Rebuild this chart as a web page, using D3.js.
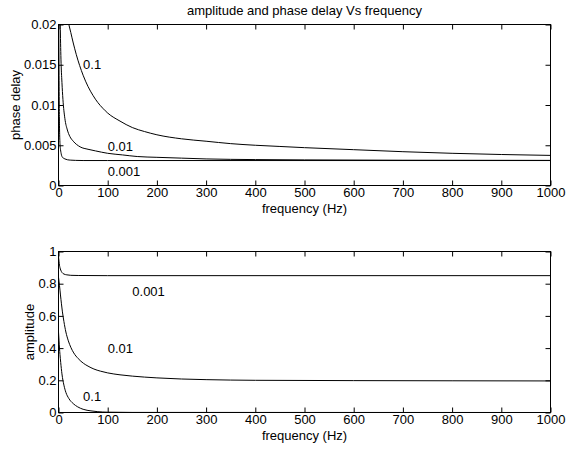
<!DOCTYPE html>
<html>
<head>
<meta charset="utf-8">
<script src="https://cdn.jsdelivr.net/npm/d3@7"></script>
<style>
  body { margin: 0; background: #fff; }
  svg { font-family: "Liberation Sans", Arial, sans-serif; }
</style>
</head>
<body>
<svg id="chart"></svg>
<script>
// values
const phaseFreq01 = [21, 25, 30, 36, 43, 50, 60, 70, 80, 90, 100, 125, 150, 175, 200, 250, 300, 350, 400, 450, 500, 600, 700, 800, 900, 1000]
const phase01 = [0.0200, 0.0190, 0.0177, 0.0163, 0.0149, 0.0137, 0.0123, 0.0112, 0.0103, 0.0096, 0.0090, 0.0080, 0.0072, 0.0067, 0.0063, 0.0058, 0.0055, 0.0052, 0.0050, 0.00485, 0.0047, 0.00445, 0.0042, 0.0040, 0.00385, 0.00374]

const phaseFreq001 = [3.5, 5, 7, 9, 13, 18, 23, 30, 44, 60, 75, 100, 130, 160, 200, 250, 300, 400, 500, 700, 1000]
const phase001 = [0.0200, 0.0157, 0.0128, 0.0107, 0.0083, 0.0069, 0.0061, 0.0055, 0.0048, 0.0045, 0.0043, 0.0040, 0.0038, 0.0036, 0.0035, 0.0034, 0.0033, 0.00322, 0.00318, 0.00314, 0.00312]

const phaseFreq0001 = [0.5, 1, 1.5, 2, 3, 4, 5, 6, 8, 10, 13, 18, 25, 35, 50, 100, 1000]
const phase0001 = [0.0200, 0.0150, 0.0100, 0.0075, 0.0052, 0.0045, 0.0041, 0.0038, 0.0035, 0.0034, 0.0033, 0.0032, 0.00315, 0.00312, 0.0031, 0.0031, 0.0031]

const ampFreq0001 = [0, 1, 2, 3, 4.5, 7, 11, 17, 25, 40, 100, 1000]
const amp0001 = [0.97, 0.94, 0.915, 0.90, 0.885, 0.870, 0.860, 0.855, 0.852, 0.851, 0.850, 0.850]

const ampFreq001 = [0, 2, 4, 6, 8, 11, 15, 20, 25, 31, 40, 51, 60, 72, 85, 100, 125, 150, 200, 250, 300, 400, 600, 800, 1000]
const amp001 = [0.84, 0.79, 0.73, 0.675, 0.625, 0.565, 0.50, 0.445, 0.405, 0.37, 0.335, 0.305, 0.288, 0.27, 0.257, 0.246, 0.234, 0.226, 0.215, 0.208, 0.204, 0.200, 0.198, 0.197, 0.196]

const ampFreq01 = [0, 1, 2, 3, 4.5, 7, 11, 15, 21, 30, 39, 50, 66, 80, 100, 150, 1000]
const amp01 = [0.50, 0.45, 0.40, 0.36, 0.31, 0.24, 0.17, 0.125, 0.087, 0.055, 0.035, 0.02, 0.01, 0.005, 0.002, 0.0005, 0]

const freqTicks = [0, 100, 200, 300, 400, 500, 600, 700, 800, 900, 1000]
const phaseTicks = [0, 0.005, 0.01, 0.015, 0.02]
const ampTicks = [0, 0.2, 0.4, 0.6, 0.8, 1]

// curve labels: [freq, value, text]
const phaseLabels = [[50, 0.015, "0.1"], [100, 0.0049, "0.01"], [100, 0.0018, "0.001"]]
const ampLabels = [[150, 0.75, "0.001"], [100, 0.4, "0.01"], [50, 0.1, "0.1"]]

const width = 566
const height = 449
const fontSize = 13
const svg = d3.select("#chart").attr("width", width).attr("height", height)

const zip = (xs, ys) => xs.map((x, i) => [x, ys[i]])

function panel({ id, top, bottom, yDomain, yTicks, yLabel, yLabelX, series, labels }) {
  const left = 58.5, right = 550.5
  const x = d3.scaleLinear().domain([0, 1000]).range([left, right])
  const y = d3.scaleLinear().domain(yDomain).range([bottom, top])
  const g = svg.append("g")

  g.append("clipPath").attr("id", id)
    .append("rect")
    .attr("x", left).attr("y", top)
    .attr("width", right - left).attr("height", bottom - top)

  const line = d3.line()
    .x(d => x(d[0]))
    .y(d => y(d[1]))
    .curve(d3.curveMonotoneX)

  g.append("g")
    .attr("clip-path", `url(#${id})`)
    .selectAll("path")
    .data(series)
    .join("path")
    .attr("d", line)
    .attr("fill", "none")
    .attr("stroke", "#000")
    .attr("stroke-width", 1)

  g.append("g")
    .selectAll("text")
    .data(labels)
    .join("text")
    .attr("x", d => x(d[0]))
    .attr("y", d => y(d[1]))
    .attr("dy", "0.35em")
    .attr("font-size", fontSize)
    .text(d => d[2])

  const styleAxis = ax => ax.call(a => a.select(".domain").remove())
    .call(a => a.selectAll(".tick text").attr("font-size", fontSize).attr("fill", "#000"))

  g.append("g")
    .attr("transform", `translate(0,${bottom})`)
    .call(d3.axisBottom(x).tickValues(freqTicks).tickSize(-5).tickPadding(2).tickFormat(d3.format("d")))
    .call(styleAxis)
  g.append("g")
    .attr("transform", `translate(0,${top})`)
    .call(d3.axisTop(x).tickValues(freqTicks).tickSize(-5).tickFormat(""))
    .call(styleAxis)
  g.append("g")
    .attr("transform", `translate(${left},0)`)
    .call(d3.axisLeft(y).tickValues(yTicks).tickSize(-5).tickPadding(2).tickFormat(d3.format("~g")))
    .call(styleAxis)
  g.append("g")
    .attr("transform", `translate(${right},0)`)
    .call(d3.axisRight(y).tickValues(yTicks).tickSize(-5).tickFormat(""))
    .call(styleAxis)

  g.selectAll(".tick line").attr("stroke", "#000")

  g.append("rect")
    .attr("x", left).attr("y", top)
    .attr("width", right - left).attr("height", bottom - top)
    .attr("fill", "none").attr("stroke", "#000")

  g.append("text")
    .attr("x", (left + right) / 2)
    .attr("y", bottom + 27)
    .attr("text-anchor", "middle")
    .attr("font-size", fontSize)
    .text("frequency (Hz)")

  g.append("text")
    .attr("transform", `translate(${yLabelX},${(top + bottom) / 2}) rotate(-90)`)
    .attr("text-anchor", "middle")
    .attr("font-size", fontSize)
    .text(yLabel)
}

panel({
  id: "clip-phase", top: 24.5, bottom: 185.5,
  yDomain: [0, 0.02], yTicks: phaseTicks,
  yLabel: "phase delay", yLabelX: 20,
  series: [zip(phaseFreq01, phase01), zip(phaseFreq001, phase001), zip(phaseFreq0001, phase0001)],
  labels: phaseLabels
})

panel({
  id: "clip-amp", top: 251.5, bottom: 412.5,
  yDomain: [0, 1], yTicks: ampTicks,
  yLabel: "amplitude", yLabelX: 34,
  series: [zip(ampFreq0001, amp0001), zip(ampFreq001, amp001), zip(ampFreq01, amp01)],
  labels: ampLabels
})

svg.append("text")
  .attr("x", 304.5)
  .attr("y", 14.5)
  .attr("text-anchor", "middle")
  .attr("font-size", fontSize)
  .text("amplitude and phase delay Vs frequency")
</script>
</body>
</html>
